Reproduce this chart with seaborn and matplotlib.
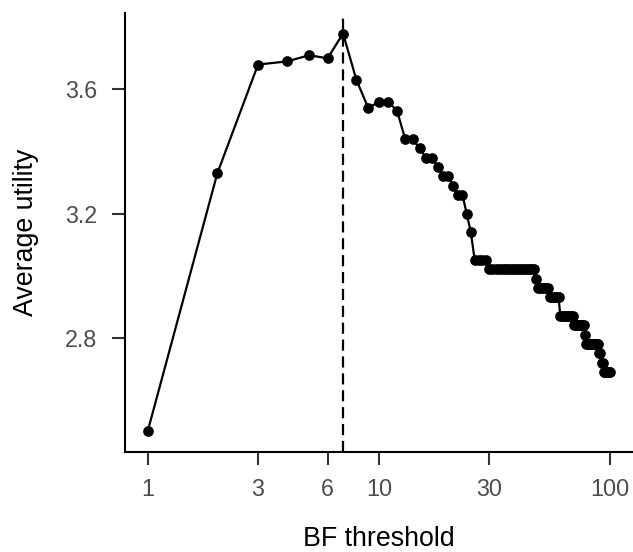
import numpy as np
import pandas as pd
import matplotlib
matplotlib.use("Agg")
import matplotlib.pyplot as plt
import seaborn as sns
from matplotlib.ticker import NullLocator

# ---- data ----
bf_threshold = list(range(1, 101))
utility_head = [2.50, 3.33, 3.68, 3.69, 3.71, 3.70, 3.78, 3.63, 3.54, 3.56,
                3.56, 3.53, 3.44, 3.44, 3.41, 3.38, 3.38, 3.35, 3.32, 3.32,
                3.29, 3.26, 3.26, 3.20, 3.14]
utility_tail = ([3.05] * 4 + [3.02] * 18 + [2.99] + [2.96] * 6 + [2.93] * 6 +
                [2.87] * 9 + [2.84] * 8 + [2.81] + [2.78] * 11 + [2.75] * 2 +
                [2.72] * 2 + [2.69] * 7)
average_utility = utility_head + utility_tail
x_ticks = [1, 3, 6, 10, 30, 100]
y_ticks = [2.8, 3.2, 3.6]
chosen_threshold = 7

df = pd.DataFrame({"bf": bf_threshold, "util": average_utility})

sns.set_style("white")
plt.rcParams["font.family"] = ["Liberation Sans", "DejaVu Sans"]

W, H = 633, 552
fig = plt.figure(figsize=(W / 100, H / 100), dpi=100)
left, right, top, bottom = 124.7, 633, 12.7, 452
ax = fig.add_axes([left / W, 1 - bottom / H, (right - left) / W, (bottom - top) / H])

sns.lineplot(data=df, x="bf", y="util", ax=ax, color="black", linewidth=1.6,
             marker="o", markersize=7.7, markeredgewidth=0, markerfacecolor="black")
ax.axvline(chosen_threshold, color="black", linewidth=1.6, linestyle=(0, (5, 2.6)))

ax.set_xscale("log")
ax.set_xlim(10 ** -0.1, 10 ** 2.1)
ax.set_ylim(2.432, 3.847)
ax.set_xticks(x_ticks)
ax.set_xticklabels([str(t) for t in x_ticks])
ax.xaxis.set_minor_locator(NullLocator())
ax.set_yticks(y_ticks)
ax.set_yticklabels([f"{t:.1f}" for t in y_ticks])

for s in ["top", "right"]:
    ax.spines[s].set_visible(False)
for s in ["left", "bottom"]:
    ax.spines[s].set_linewidth(1.5)
    ax.spines[s].set_color("black")

ax.tick_params(axis="both", which="major", direction="out", length=9.5, width=1.5,
               color="#333333", labelsize=16.8, labelcolor="#4d4d4d",
               bottom=True, left=True)
ax.tick_params(axis="x", pad=9.5)
ax.tick_params(axis="y", pad=10.2)
ax.set_xlabel("BF threshold", fontsize=19.3, color="black", labelpad=17.5)
ax.set_ylabel("Average utility", fontsize=19.3, color="black", labelpad=19)

fig.savefig("out.png", dpi=100)
